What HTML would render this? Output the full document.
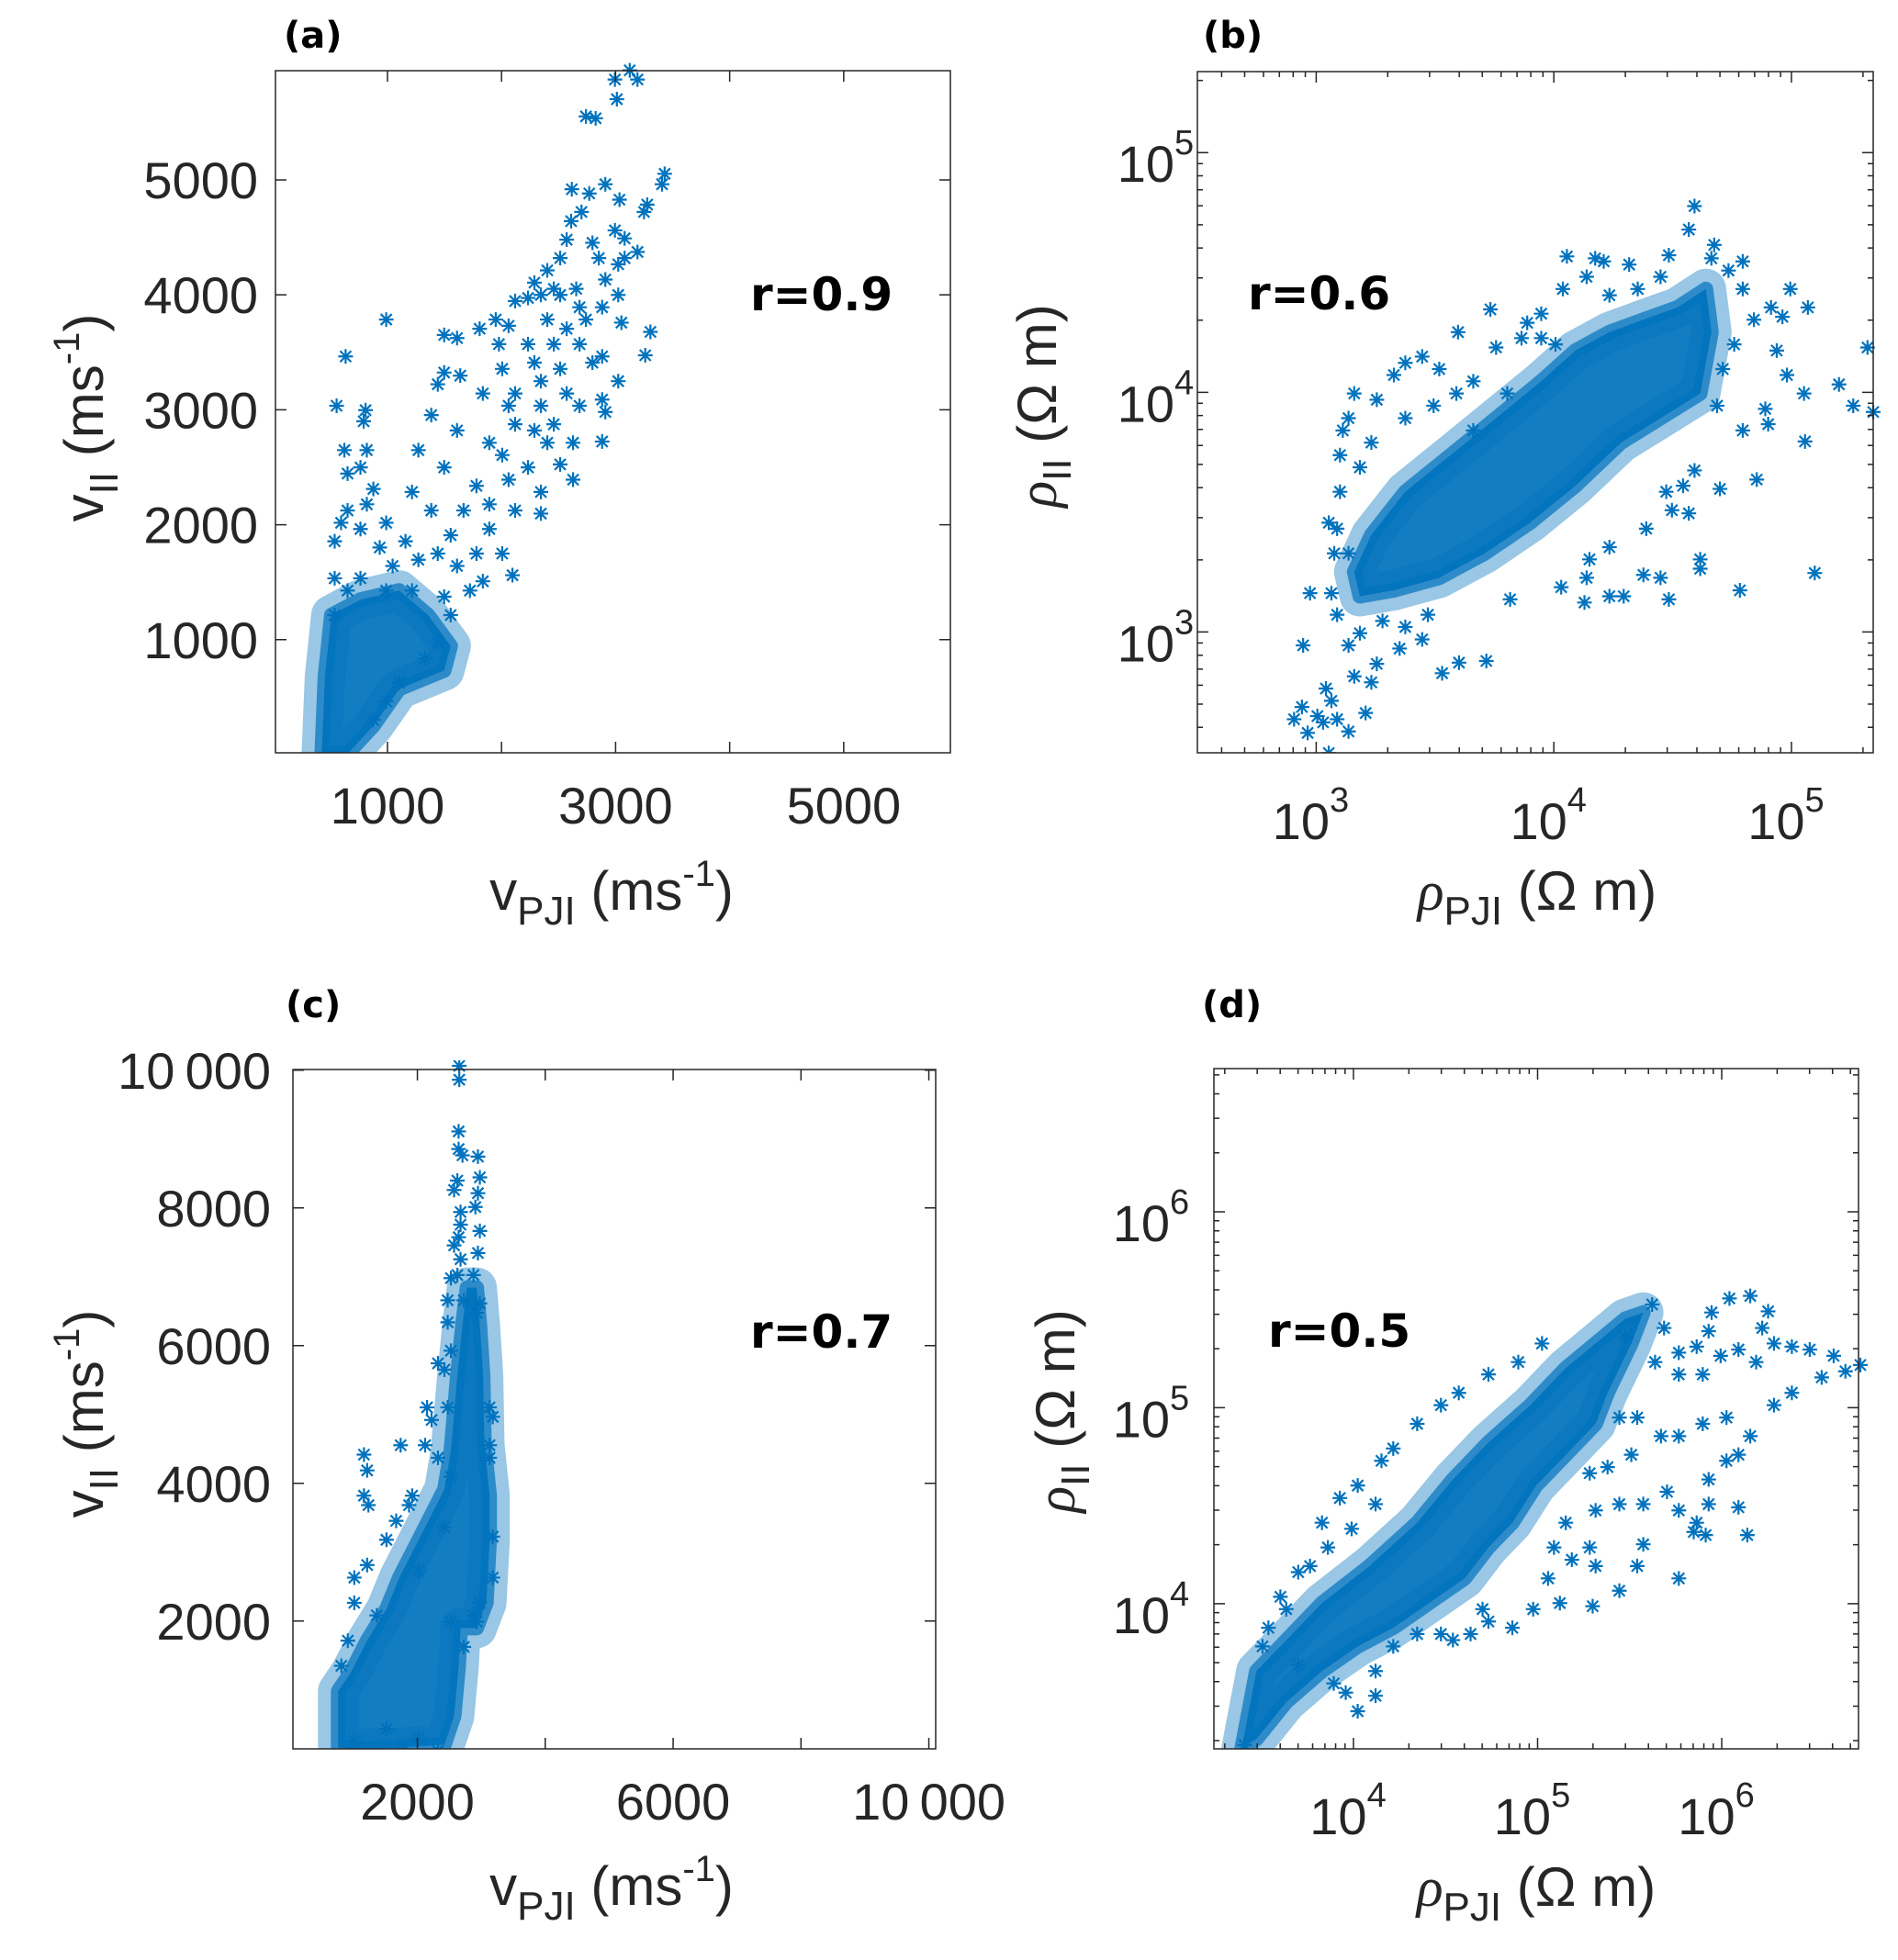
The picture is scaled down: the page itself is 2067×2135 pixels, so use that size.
<!DOCTYPE html>
<html><head><meta charset="utf-8"><style>
html,body{margin:0;padding:0;background:#fff}
svg{display:block;font-family:"Liberation Sans",Arial,sans-serif}
</style></head><body>
<svg id="fig" width="2067" height="2135" viewBox="0 0 2067 2135" xmlns="http://www.w3.org/2000/svg">
<rect width="2067" height="2135" fill="#fff"/>
<defs id="defs"></defs>
<g id="root"></g>
</svg>
<script>
// ---------- Panel (a): v_PJI vs v_II (linear, m/s) ----------
const aCoreX=[424,452,508,763,1102,1356,1554,1497,1102,876,650];
const aCoreY=[9,679,1214,1348,1428,1214,946,732,571,250,9];
const aX=[3124,3192,2994,3011,2740,2825,3430,3407,2910,2616,2769,3034,3277,3249,2701,2610,2994,3079,3192,2571,2797,2514,2853,2401,3023,3079,2288,2458,2655,2910,3023,2119,2232,2345,2514,2684,2882,2740,3051,3305,3260,1949,2062,2401,2571,1808,1497,1610,989,633,1977,2232,2458,2684,2882,2006,2288,2514,2797,3023,1497,1638,1441,1836,2119,2345,2571,2684,2882,2910,554,808,791,2062,2345,2458,2119,1384,1610,1271,622,819,1893,2288,2401,2882,2627,2006,2232,2514,1497,650,763,876,1780,2062,2345,2627,1215,1384,1667,1893,2119,2345,650,819,989,763,537,593,932,1158,1554,1893,2006,1780,1441,1836,2096,1271,1045,537,763,1610,1723,1554,1441,1328,1102,989,876,1497,1215,989,650,537];
const aY=[5953,5873,5873,5702,5552,5536,5053,4962,4962,4919,4882,4828,4785,4721,4721,4641,4561,4491,4373,4480,4453,4320,4320,4213,4266,4320,4106,4052,4052,4133,3999,3946,3973,3999,3999,3892,3892,3785,3758,3678,3474,3785,3731,3785,3705,3705,3651,3624,3785,3464,3571,3571,3571,3571,3464,3356,3410,3356,3410,3249,3324,3297,3222,3142,3142,3249,3142,3035,3089,2981,3035,2997,2900,3035,3035,2874,2874,2954,2820,2649,2649,2649,2713,2820,2713,2724,2713,2606,2499,2525,2499,2445,2499,2311,2338,2392,2285,2392,2285,2124,2124,2178,2124,2097,2124,2178,2017,1963,1856,2017,1802,1856,1909,1963,1749,1749,1749,1508,1561,1695,1641,1534,1534,1641,1427,1214,972,838,624,463,302,1374,1427,1427,1427,1214];

// ---------- Panel (b): log10 rho_PJI vs log10 rho_II ----------
const bCoreLogX=[3.160,3.232,3.375,3.566,3.757,3.947,4.091,4.234,4.377,4.520,4.640,4.663,4.616,4.449,4.282,4.091,3.900,3.709,3.518,3.327,3.184];
const bCoreLogY=[3.251,3.405,3.585,3.738,3.892,4.046,4.174,4.251,4.303,4.354,4.431,4.251,3.995,3.892,3.790,3.610,3.456,3.328,3.226,3.174,3.149];
const bLogX=[4.592,4.568,4.675,4.663,4.055,4.174,4.210,4.484,4.795,4.735,4.317,4.138,4.038,4.795,4.995,5.069,4.914,4.962,4.842,3.733,3.947,3.888,3.947,4.234,4.353,4.449,3.597,3.757,4.007,3.864,5.320,5.200,5.260,5.344,5.053,4.981,4.938,4.890,5.057,4.902,4.854,4.795,4.783,5.098,4.699,4.592,4.544,4.497,4.568,4.473,4.616,4.616,4.389,4.484,4.449,4.294,4.234,4.377,4.234,4.138,4.031,4.129,4.150,3.816,3.716,3.601,3.530,3.446,3.375,3.470,3.351,3.255,3.232,3.208,3.136,3.088,3.064,3.041,3.029,2.964,2.907,2.940,3.005,3.053,2.945,2.974,3.064,3.076,3.053,3.100,3.100,3.112,3.160,3.136,3.184,3.255,3.327,3.375,3.446,3.518,3.590,3.661,3.232,3.375,3.494,3.661,3.804,3.088,3.136,3.088,3.184,3.279,3.136,3.160,4.711,4.759,4.687];
const bLogY=[4.777,4.679,4.615,4.559,4.567,4.559,4.546,4.572,4.546,4.508,4.533,4.482,4.431,4.431,4.431,4.354,4.354,4.315,4.303,4.346,4.328,4.290,4.226,4.405,4.431,4.482,4.251,4.187,4.200,4.226,4.187,4.033,3.944,3.918,3.995,4.072,4.174,3.931,3.795,3.867,3.636,3.841,3.174,3.246,3.597,3.674,3.610,3.508,3.495,3.585,3.303,3.264,3.431,3.136,3.226,3.149,3.149,3.238,3.354,3.226,3.187,3.123,3.303,3.136,2.879,2.872,2.828,2.969,3.021,3.072,2.931,2.867,2.790,2.662,2.585,2.636,2.713,2.764,2.623,2.579,2.636,2.687,2.649,2.495,2.944,3.162,3.162,3.328,3.456,3.585,3.738,3.841,3.995,3.892,3.687,3.969,4.072,4.123,4.149,4.097,3.995,4.046,3.790,3.892,3.944,3.841,3.995,3.431,3.328,3.072,2.995,3.046,2.944,2.815,4.097,4.200,3.944];

// ---------- Panel (c): v_PJI vs v_II (linear, m/s) ----------
const cCoreX=[761,761,962,1214,1516,1718,2020,2423,2524,2574,2625,2705,2776,2927,2977,3028,3048,3129,3129,3078,2927,2675,2645,2574,2423,1718,1113];
const cCoreY=[160,984,1259,1716,2174,2631,3180,3913,4462,5011,5560,6293,6842,6842,6293,5560,4554,3821,3180,2265,1899,1899,1350,618,206,160,142];
const cX=[2655,2655,2645,2645,2947,2705,2977,2947,2907,2625,2574,2675,2675,2977,2645,2947,2675,2625,2877,2524,2474,2726,2977,2474,2524,2423,2474,3129,3179,3129,3129,3179,2222,2121,2322,2524,1164,1214,1164,1234,1738,2151,1919,1869,1668,1516,1214,1013,2020,2423,1013,912,811,2524,2726,1516,2322,2020,1768,1013,2977,3179,2927,2877,1365,2322,2927,2574];
const cY=[10063,9862,9111,8855,8745,8763,8443,8214,8013,8397,8260,7940,7757,7665,7574,7345,7254,7025,7025,6980,6659,6659,6613,6339,5926,5652,5103,5103,4966,4554,4371,3226,4920,4554,4371,4096,4417,4188,3821,3684,4554,5103,3821,3684,3455,3180,2814,2631,2723,3364,2265,1716,1350,1991,1625,435,114,297,206,252,2265,2631,1991,2082,2082,5743,6476,7455];

// ---------- Panel (d): log10 rho_PJI vs log10 rho_II ----------
const dCoreLogX=[3.393,3.473,3.603,3.829,4.087,4.346,4.540,4.733,4.960,5.153,5.315,5.476,5.574,5.509,5.380,5.315,5.153,4.992,4.863,4.733,4.604,4.410,4.216,4.023,3.829,3.635,3.473];
const dCoreLogY=[3.262,3.656,3.782,4.003,4.192,4.413,4.634,4.823,5.013,5.202,5.328,5.454,5.486,5.328,5.076,4.918,4.760,4.603,4.413,4.287,4.129,4.003,3.877,3.782,3.656,3.498,3.309];
const dLogX=[5.622,5.687,5.477,5.945,6.042,6.155,6.252,6.220,5.929,5.864,5.767,5.994,6.091,6.187,6.284,6.381,6.478,6.608,6.753,6.672,6.543,6.381,6.284,6.155,6.026,5.897,5.767,5.670,5.897,5.767,5.638,5.541,5.444,5.509,5.380,5.283,5.315,5.444,5.574,5.703,5.767,5.864,5.929,6.026,6.091,5.929,5.848,5.913,6.091,6.139,5.574,5.541,5.767,5.444,5.315,5.283,5.121,5.299,4.976,5.186,5.089,5.153,5.057,4.863,4.733,4.701,4.636,4.475,4.540,4.346,4.216,4.120,4.023,4.120,3.958,3.893,3.700,3.506,3.635,3.700,3.829,3.926,4.023,4.152,4.216,4.346,4.475,4.572,4.733,4.895,5.024,3.538,3.603,3.764,3.861,3.990,4.120,3.409];
const dLogY=[5.527,5.407,5.360,5.486,5.558,5.571,5.492,5.407,5.391,5.312,5.281,5.265,5.297,5.233,5.328,5.312,5.297,5.265,5.218,5.186,5.155,5.076,5.013,4.855,4.950,4.918,4.855,4.855,5.170,5.170,5.233,4.950,4.950,4.760,4.697,4.666,4.476,4.508,4.508,4.571,4.476,4.413,4.508,4.729,4.760,4.634,4.366,4.350,4.492,4.350,4.303,4.192,4.129,4.066,4.192,4.287,4.003,3.987,3.972,4.224,4.287,4.413,4.129,3.877,3.909,3.972,3.845,3.845,3.814,3.845,3.782,3.656,3.451,3.530,3.546,3.593,3.688,3.782,3.972,4.161,4.413,4.539,4.603,4.729,4.792,4.918,5.013,5.076,5.170,5.233,5.328,3.877,4.035,4.192,4.287,4.382,4.508,3.278];

// tick values
const aTicks=[1000,2000,3000,4000,5000];
const aTickLabels=["1000","","3000","","5000"];
const aYTickLabels=["1000","2000","3000","4000","5000"];
const cTicks=[2000,4000,6000,8000,10000];
const cXTickLabels=["2000","","6000","","10\u2009000"];
const cYTickLabels=["2000","4000","6000","8000","10\u2009000"];
const bTicks=[3,4,5];
const dTicks=[4,5,6];

const NS="http://www.w3.org/2000/svg";
const root=document.getElementById('root');
const defs=document.getElementById('defs');
const BLUE="#0072BD", AX="#262626";
function el(tag,attrs,parent){const e=document.createElementNS(NS,tag);for(const k in attrs)e.setAttribute(k,attrs[k]);(parent||root).appendChild(e);return e;}
function scale(d0,d1,p0,p1){return v=>p0+(v-d0)/(d1-d0)*(p1-p0);}

function drawPanel(cfg){
  const g=el('g',{});
  
  
  const cp=el('clipPath',{id:'clip-'+cfg.id},defs);
  el('rect',{x:cfg.L,y:cfg.T-10,width:cfg.R-cfg.L+12,height:cfg.B-cfg.T+10},cp);
  const sx=scale(cfg.xd[0],cfg.xd[1],cfg.L,cfg.R), sy=scale(cfg.yd[0],cfg.yd[1],cfg.B,cfg.T);
  const pg=el('g',{'clip-path':'url(#clip-'+cfg.id+')'},g);
  
  
  const pts=cfg.coreX.map((x,i)=>sx(x).toFixed(1)+','+sy(cfg.coreY[i]).toFixed(1)).join(' ');
  const halo=el('polygon',{points:pts,fill:BLUE,'fill-opacity':0.5,stroke:BLUE,'stroke-opacity':0.4,'stroke-width':44,'stroke-linejoin':'round'},pg);
  
  
  const core=el('polygon',{points:pts,fill:BLUE,'fill-opacity':0.85,stroke:BLUE,'stroke-opacity':0.7,'stroke-width':16,'stroke-linejoin':'round'},pg);
  
  
  const mg=el('g',{stroke:BLUE,'stroke-width':2.2,fill:'none'},pg);
  
  
  const s=8,d=6;
  for(let i=0;i<cfg.px.length;i++){
    const cx=sx(cfg.px[i]),cy=sy(cfg.py[i]);
    const m=el('path',{d:`M${cx-s},${cy}H${cx+s}M${cx},${cy-s}V${cy+s}M${cx-d},${cy-d}L${cx+d},${cy+d}M${cx-d},${cy+d}L${cx+d},${cy-d}`},mg);
    
    
  }
  const box=el('rect',{x:cfg.L,y:cfg.T,width:cfg.R-cfg.L,height:cfg.B-cfg.T,fill:'none',stroke:AX,'stroke-width':1.5},g);
  
  
  const tg=el('g',{stroke:AX,'stroke-width':1.5},g);
  
  
  function xt(v,len){const x=sx(v);el('path',{d:`M${x},${cfg.B}v${-len}M${x},${cfg.T}v${len}`},tg);}
  function yt(v,len){const y=sy(v);el('path',{d:`M${cfg.L},${y}h${len}M${cfg.R},${y}h${-len}`},tg);}
  cfg.xticks.forEach(v=>xt(v,12)); cfg.yticks.forEach(v=>yt(v,12));
  if(cfg.log){
    for(let dd=Math.floor(cfg.xd[0]);dd<cfg.xd[1];dd++)for(let k=2;k<10;k++){const v=dd+Math.log10(k);if(v>cfg.xd[0]&&v<cfg.xd[1])xt(v,6);}
    for(let dd=Math.floor(cfg.yd[0]);dd<cfg.yd[1];dd++)for(let k=2;k<10;k++){const v=dd+Math.log10(k);if(v>cfg.yd[0]&&v<cfg.yd[1])yt(v,6);}
  }
  const lg=el('g',{fill:AX,'font-size':56},g);
  cfg.xticks.forEach((v,i)=>{
    let t;
    if(cfg.log){
      t=el('text',{x:sx(v)-6,y:cfg.xlabY,'text-anchor':'middle'},lg);
      t.innerHTML='10<tspan font-size="38" dy="-30">'+v+'</tspan>';
    } else {
      if(!cfg.xlabels[i])return;
      t=el('text',{x:sx(v),y:cfg.xlabY,'text-anchor':'middle'},lg);
      t.textContent=cfg.xlabels[i];
    }
    
    
  });
  cfg.yticks.forEach((v,i)=>{
    let t;
    if(cfg.log){
      t=el('text',{x:cfg.ylabX-24,y:sy(v)+32,'text-anchor':'end'},lg);
      t.textContent='10';
      const e=el('text',{x:cfg.ylabX-24,y:sy(v)+2,'font-size':38},lg);
      e.textContent=String(v);
      
      
    } else {
      t=el('text',{x:cfg.ylabX,y:sy(v)+20,'text-anchor':'end'},lg);
      t.textContent=cfg.ylabels[i];
    }
    
    
  });
  const xtl=el('text',{x:cfg.xtX,y:cfg.xtY,'text-anchor':'middle','font-size':60,fill:AX},g);
  xtl.innerHTML=cfg.xTitle;
  
  
  const ytl=el('text',{x:0,y:0,'text-anchor':'middle','font-size':60,fill:AX,transform:`translate(${cfg.ytX},${cfg.ytY}) rotate(-90)`},g);
  ytl.innerHTML=cfg.yTitle;
  
  
  const pl=el('text',{x:cfg.plX,y:cfg.plY,'font-size':40,'font-weight':'bold','font-family':'"DejaVu Sans",sans-serif',fill:'#000'},g);
  pl.textContent='('+cfg.id+')';
  
  
  const rt=el('text',{x:cfg.rX,y:cfg.rY,'font-size':50,'font-weight':'bold','font-family':'"DejaVu Sans",sans-serif',fill:'#000'},g);
  rt.textContent=cfg.r;
  
  
}
const vX='v<tspan font-size="44" dy="16">PJI</tspan><tspan dy="-16"> (ms</tspan><tspan font-size="40" dy="-26">-1</tspan><tspan dy="26">)</tspan>';
const vY='v<tspan font-size="44" dy="16">II</tspan><tspan dy="-16"> (ms</tspan><tspan font-size="40" dy="-26">-1</tspan><tspan dy="26">)</tspan>';
const rX='<tspan font-family="Liberation Serif,serif" font-style="italic">ρ</tspan><tspan font-size="44" dy="16">PJI</tspan><tspan dy="-16"> (Ω m)</tspan>';
const rY='<tspan font-family="Liberation Serif,serif" font-style="italic">ρ</tspan><tspan font-size="44" dy="16">II</tspan><tspan dy="-16"> (Ω m)</tspan>';

drawPanel({id:'a',L:300,R:1035,T:77,B:820,xd:[18,5935],yd:[16,5950],log:false,
  coreX:aCoreX,coreY:aCoreY,px:aX,py:aY,xticks:aTicks,yticks:aTicks,xlabels:aTickLabels,ylabels:aYTickLabels,
  xlabY:897,ylabX:281,xTitle:vX,xtX:666,xtY:991,yTitle:vY,ytX:112,ytY:455,plX:309,plY:52,r:'r=0.9',rX:817,rY:338});
drawPanel({id:'b',L:1304,R:2040,T:78,B:820,xd:[2.5,5.344],yd:[2.496,5.338],log:true,
  coreX:bCoreLogX,coreY:bCoreLogY,px:bLogX,py:bLogY,xticks:bTicks,yticks:bTicks,
  xlabY:914,ylabX:1303,xTitle:rX,xtX:1674,xtY:991,yTitle:rY,ytX:1150,ytY:442,plX:1310,plY:52,r:'r=0.6',rX:1359,rY:337});
drawPanel({id:'c',L:319,R:1019,T:1165,B:1905,xd:[53,10107],yd:[144,10010],log:false,
  coreX:cCoreX,coreY:cCoreY,px:cX,py:cY,xticks:cTicks,yticks:cTicks,xlabels:cXTickLabels,ylabels:cYTickLabels,
  xlabY:1982,ylabX:295,xTitle:vX,xtX:666,xtY:2075,yTitle:vY,ytX:112,ytY:1540,plX:311,plY:1108,r:'r=0.7',rX:817,rY:1468});
drawPanel({id:'d',L:1322,R:2024,T:1164,B:1905,xd:[3.242,6.743],yd:[3.259,6.731],log:true,
  coreX:dCoreLogX,coreY:dCoreLogY,px:dLogX,py:dLogY,xticks:dTicks,yticks:dTicks,
  xlabY:1998,ylabX:1298,xTitle:rX,xtX:1673,xtY:2076,yTitle:rY,ytX:1170,ytY:1537,plX:1309,plY:1108,r:'r=0.5',rX:1381,rY:1467});
</script>
</body></html>
